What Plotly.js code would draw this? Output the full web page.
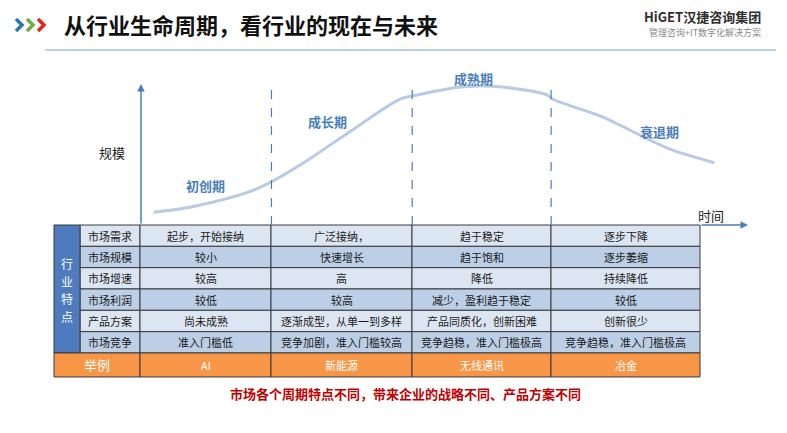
<!DOCTYPE html>
<html><head><meta charset="utf-8">
<script src="https://cdn.plot.ly/plotly-3.0.1.min.js"></script>
<style>html,body{margin:0;padding:0;background:#fff}#c{width:787px;height:433px}</style>
</head><body><div id="c"></div>
<script>
// ---------- data ----------
const titleText = '从行业生命周期，看行业的现在与未来';
const noteText = '市场各个周期特点不同，带来企业的战略不同、产品方案不同';
// lifecycle curve: time (0-100) vs scale (0-100)
const curveTime  = [2.1, 8.5, 18.0, 21.6, 26.8, 35.0, 42.8, 44.9, 52.6, 56.0, 59.4, 67.2, 68.2, 76.3, 83.1, 87.9, 94.9];
const curveScale = [9.1, 13.1, 23.8, 30.9, 44.1, 67.9, 89.8, 92.1, 98.4, 99.3, 98.8, 92.9, 89.8, 77.4, 63.1, 53.6, 44.5];
const phaseBounds = [21.6, 44.9, 67.9];
const phases = ['初创期', '成长期', '成熟期', '衰退期'];
const groupLabel = '行业特点';
const rowLabels = ['市场需求', '市场规模', '市场增速', '市场利润', '产品方案', '市场竞争'];
const colStart   = ['起步，开始接纳', '较小', '较高', '较低', '尚未成熟', '准入门槛低'];
const colGrowth  = ['广泛接纳，', '快速增长', '高', '较高', '逐渐成型，从单一到多样', '竞争加剧，准入门槛较高'];
const colMature  = ['趋于稳定', '趋于饱和', '降低', '减少，盈利趋于稳定', '产品同质化，创新困难', '竞争趋稳，准入门槛极高'];
const colDecline = ['逐步下降', '逐步萎缩', '持续降低', '较低', '创新很少', '竞争趋稳，准入门槛极高'];
const exampleLabel = '举例';
const examples = ['AI', '新能源', '无线通讯', '冶金'];

// ---------- layout constants ----------
const FONT = '"Noto Sans CJK SC", "Noto Sans", sans-serif';
const W = 787, H = 433;
const tblLeft = 54, grpRight = 80, lblRight = 140;
const colEdges = [140, 271, 412, 551, 700];
const tblTop = 225, rowH = 21.33, exH = 24;
const lightC = '#dce6f2', darkC = '#bccfe6', blueC = '#4d7bbd', orangeC = '#f79646', borderC = '#3a3a3a';
const axisC = '#4a7ebb';
const yTopPx = 71, yMax = 110; // scale axis: 0 at table top, 110 at yTopPx

const shapes = [], ann = [];
function rect(x0, y0, x1, y1, fill) {
  shapes.push({type: 'rect', xref: 'x', yref: 'y', x0, y0, x1, y1, fillcolor: fill, line: {color: borderC, width: 1}, layer: 'below'});
}
function txt(x, y, text, size, color, opts) {
  ann.push(Object.assign({xref: 'x', yref: 'y', x, y, text, showarrow: false, font: {family: FONT, size, color}}, opts || {}));
}

// header
const chevColors = ['#2e75b6', '#70ad47', '#e8231f'];
chevColors.forEach((c, i) => {
  const x0 = 16 + i * 11;
  shapes.push({type: 'path', xref: 'x', yref: 'y', path: `M ${x0} 19 L ${x0 + 6} 25 L ${x0} 31`, line: {color: c, width: 3.5}});
});
txt(62, 24, '<b>' + titleText + '</b>', 22, '#111', {xanchor: 'left'});
txt(763, 16, '<b>HiGET汉捷咨询集团</b>', 13, '#2f2f2f', {xanchor: 'right', yanchor: 'middle'});
txt(763, 32.5, '管理咨询+IT数字化解决方案', 9, '#8a8a8a', {xanchor: 'right', yanchor: 'middle'});
shapes.push({type: 'line', xref: 'x', yref: 'y', x0: 45, x1: 776, y0: 50, y1: 50, line: {color: '#a9c0dc', width: 1.5}});

// chart axes arrows
ann.push({xref: 'x', yref: 'y', axref: 'x', ayref: 'y', x: 141, y: 84, ax: 141, ay: tblTop, text: '', showarrow: true, arrowhead: 2, arrowsize: 1, arrowwidth: 1.5, arrowcolor: axisC});
ann.push({xref: 'x', yref: 'y', axref: 'x', ayref: 'y', x: 748, y: tblTop, ax: 700, ay: tblTop, text: '', showarrow: true, arrowhead: 2, arrowsize: 1, arrowwidth: 1.5, arrowcolor: axisC});
txt(112, 152, '规模', 13, '#222');
txt(711, 215, '时间', 13, '#222');

// phase dividers & labels
phaseBounds.forEach(b => shapes.push({type: 'line', xref: 'x2', yref: 'y2', x0: b, x1: b, y0: 0, y1: 99.5, line: {color: axisC, width: 1.2, dash: 'dash'}}));
const phaseLblPos = [[10.6, 28.5], [30.8, 74], [55.1, 104.5], [85.9, 66.5]];
phases.forEach((p, i) => ann.push({xref: 'x2', yref: 'y2', x: phaseLblPos[i][0], y: phaseLblPos[i][1], text: '<b>' + p + '</b>', showarrow: false, font: {family: FONT, size: 13, color: '#4a7ebb'}}));

// table
const cols = [colStart, colGrowth, colMature, colDecline];
const nRows = rowLabels.length;
for (let r = 0; r < nRows; r++) {
  const y0 = tblTop + r * rowH, y1 = y0 + rowH, fill = r % 2 === 0 ? lightC : darkC, yc = (y0 + y1) / 2;
  rect(grpRight, y0, lblRight, y1, fill);
  txt((grpRight + lblRight) / 2, yc, rowLabels[r], 11, '#1a1a1a');
  cols.forEach((col, c) => {
    rect(colEdges[c], y0, colEdges[c + 1], y1, fill);
    txt((colEdges[c] + colEdges[c + 1]) / 2, yc, col[r], 11, '#1a1a1a');
  });
}
const tblBodyBottom = tblTop + nRows * rowH;
rect(tblLeft, tblTop, grpRight, tblBodyBottom, blueC);
const gChars = groupLabel.split('');
const gMid = (tblTop + tblBodyBottom) / 2 + 1, gStep = 17.5;
gChars.forEach((ch, i) => txt((tblLeft + grpRight) / 2, gMid + (i - (gChars.length - 1) / 2) * gStep, ch, 12, '#fff'));
const exBottom = tblBodyBottom + exH;
rect(tblLeft, tblBodyBottom, lblRight, exBottom, orangeC);
txt((tblLeft + lblRight) / 2, (tblBodyBottom + exBottom) / 2, exampleLabel, 13, '#fff');
examples.forEach((e, c) => {
  rect(colEdges[c], tblBodyBottom, colEdges[c + 1], exBottom, orangeC);
  txt((colEdges[c] + colEdges[c + 1]) / 2, (tblBodyBottom + exBottom) / 2, e, 11, '#fff');
});

txt(405, 393, '<b>' + noteText + '</b>', 13, '#c00000');

const traces = [{
  type: 'scatter', mode: 'lines', x: curveTime, y: curveScale, xaxis: 'x2', yaxis: 'y2',
  line: {color: '#b7cae6', width: 3, shape: 'spline', smoothing: 0.9}, hoverinfo: 'skip'
}];

const layout = {
  width: W, height: H, margin: {l: 0, r: 0, t: 0, b: 0},
  paper_bgcolor: '#fff', plot_bgcolor: 'rgba(0,0,0,0)', showlegend: false,
  xaxis: {range: [0, W], visible: false, fixedrange: true, domain: [0, 1]},
  yaxis: {range: [H, 0], visible: false, fixedrange: true, domain: [0, 1]},
  xaxis2: {range: [0, 100], visible: false, anchor: 'y2', domain: [141 / W, 745 / W]},
  yaxis2: {range: [0, yMax], visible: false, anchor: 'x2', domain: [(H - tblTop) / H, (H - yTopPx) / H]},
  shapes, annotations: ann, font: {family: FONT}
};
Plotly.newPlot('c', traces, layout, {staticPlot: true, displayModeBar: false});
</script></body></html>
